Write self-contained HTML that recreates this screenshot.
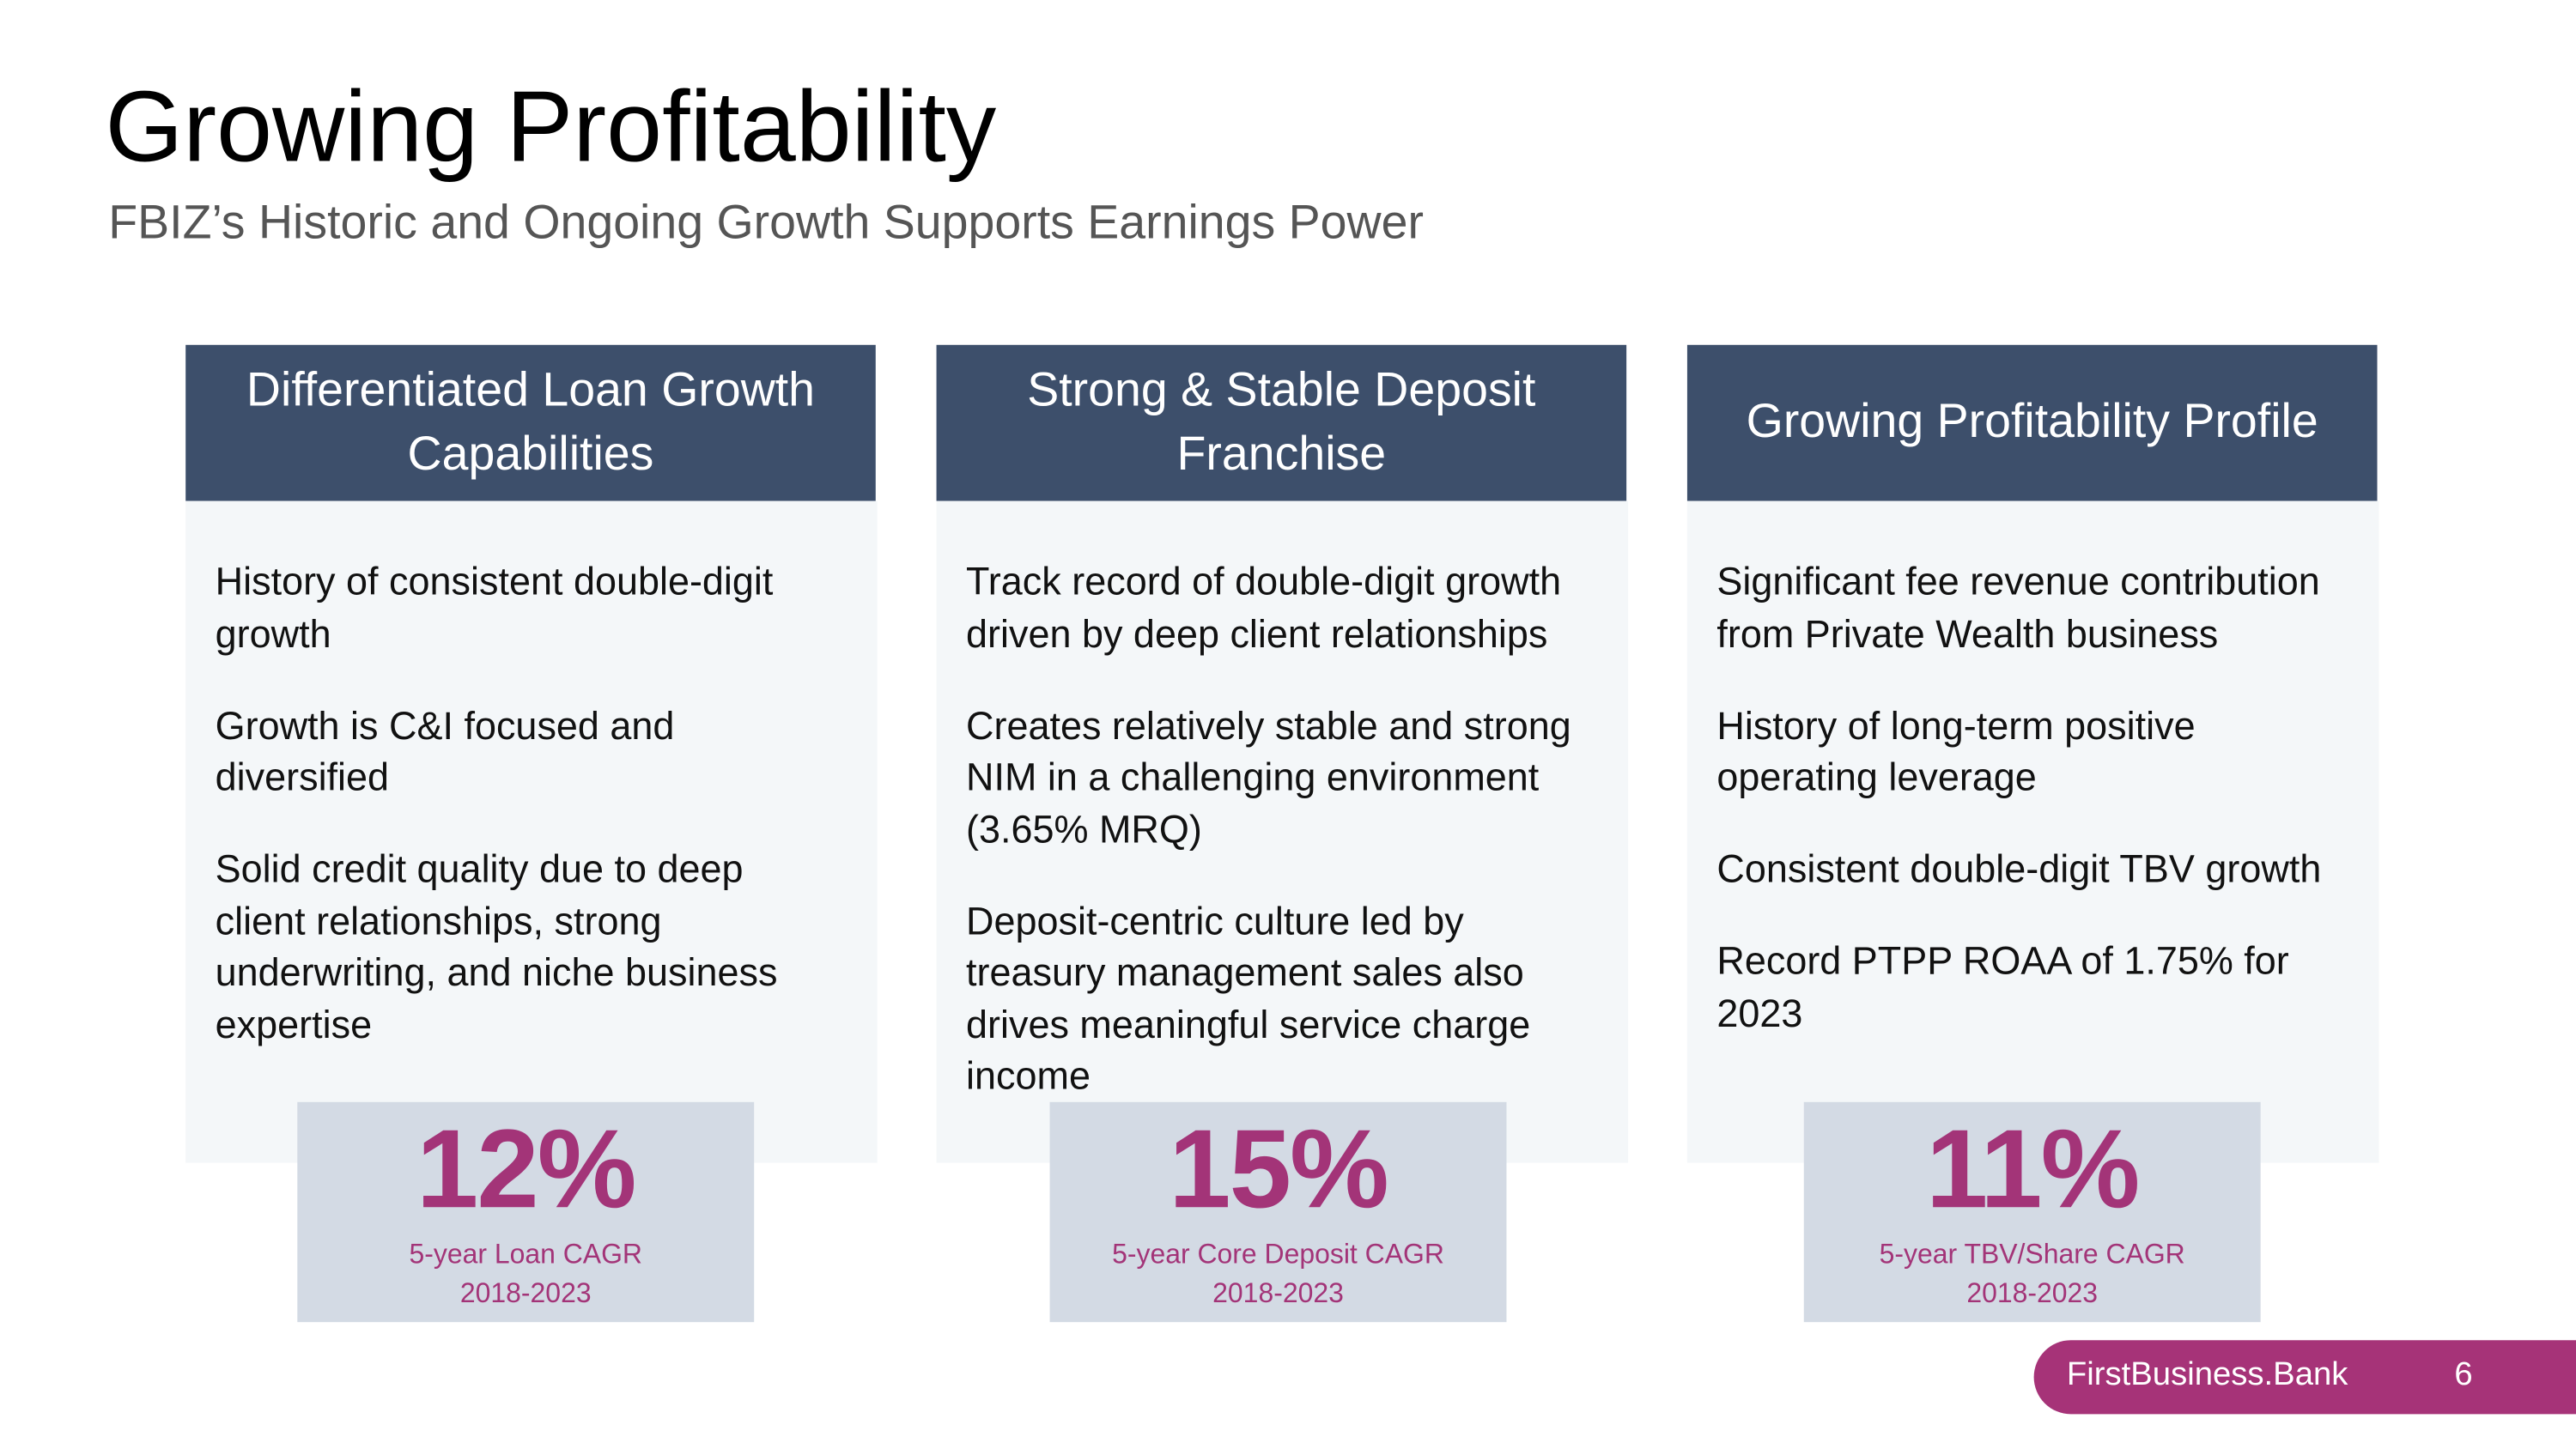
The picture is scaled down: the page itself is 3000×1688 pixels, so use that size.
<!DOCTYPE html>
<html><head><meta charset="utf-8"><style>
html,body{margin:0;padding:0;background:#fff;}
body{width:3000px;height:1687px;overflow:hidden;position:relative;font-family:"Liberation Sans",sans-serif;}
#s{position:absolute;left:0;top:0;width:1568px;height:882px;transform:scale(1.91327);transform-origin:0 0;}
.a{position:absolute;white-space:nowrap;}
.hdr{position:absolute;top:210px;width:420px;height:95px;background:#3d4f6b;color:#fff;font-size:29px;line-height:39px;display:flex;align-items:center;justify-content:center;text-align:center;white-space:nowrap;}
.bod{position:absolute;top:305px;width:421px;height:403px;background:#f4f7f9;}
.txt{position:absolute;top:339px;font-size:23.5px;line-height:31.5px;color:#111;white-space:nowrap;}
.txt p{margin:0 0 24.5px 0;}
.box{position:absolute;top:671px;width:278px;height:134px;background:#d3dae4;text-align:center;color:#a33478;}
.big{font-size:68px;font-weight:bold;line-height:68px;margin-top:7px;letter-spacing:-1px;}
.sm{font-size:16.7px;line-height:24px;margin-top:6px;}
</style></head><body>
<div id="s">
<div class="a" style="left:64px;top:40px;font-size:61px;line-height:74px;color:#000;">Growing Profitability</div>
<div class="a" style="left:66px;top:117px;font-size:29px;line-height:38px;color:#555;">FBIZ’s Historic and Ongoing Growth Supports Earnings Power</div>

<div class="bod" style="left:113px;"></div>
<div class="hdr" style="left:113px;">Differentiated Loan Growth<br>Capabilities</div>
<div class="txt" style="left:131px;">
<p>History of consistent double-digit<br>growth</p>
<p>Growth is C&amp;I focused and<br>diversified</p>
<p>Solid credit quality due to deep<br>client relationships, strong<br>underwriting, and niche business<br>expertise</p></div>
<div class="box" style="left:181px;"><div class="big">12%</div><div class="sm">5-year Loan CAGR<br>2018-2023</div></div>

<div class="bod" style="left:570px;"></div>
<div class="hdr" style="left:570px;">Strong &amp; Stable Deposit<br>Franchise</div>
<div class="txt" style="left:588px;">
<p>Track record of double-digit growth<br>driven by deep client relationships</p>
<p>Creates relatively stable and strong<br>NIM in a challenging environment<br>(3.65% MRQ)</p>
<p>Deposit-centric culture led by<br>treasury management sales also<br>drives meaningful service charge<br>income</p></div>
<div class="box" style="left:639px;"><div class="big">15%</div><div class="sm">5-year Core Deposit CAGR<br>2018-2023</div></div>

<div class="bod" style="left:1027px;"></div>
<div class="hdr" style="left:1027px;">Growing Profitability Profile</div>
<div class="txt" style="left:1045px;">
<p>Significant fee revenue contribution<br>from Private Wealth business</p>
<p>History of long-term positive<br>operating leverage</p>
<p>Consistent double-digit TBV growth</p>
<p>Record PTPP ROAA of 1.75% for<br>2023</p></div>
<div class="box" style="left:1098px;"><div class="big">11%</div><div class="sm">5-year TBV/Share CAGR<br>2018-2023</div></div>

<div class="a" style="left:1238px;top:816px;width:340px;height:45px;background:#a63378;border-radius:23px 0 0 23px;"></div>
<div class="a" style="left:1258px;top:823px;font-size:20px;line-height:28px;color:#fff;">FirstBusiness.Bank</div>
<div class="a" style="left:1494px;top:823px;font-size:20px;line-height:28px;color:#fff;">6</div>
</div>
</body></html>
